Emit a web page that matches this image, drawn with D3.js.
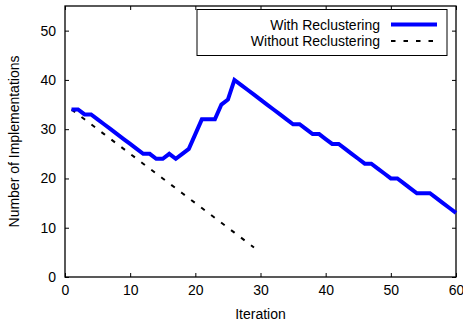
<!DOCTYPE html>
<html>
<head>
<meta charset="utf-8">
<script src="https://cdn.jsdelivr.net/npm/d3@7"></script>
<style>
  body { margin: 0; background: #fff; }
  svg { display: block; font-family: "Liberation Sans", Arial, sans-serif; }
</style>
</head>
<body>
<div id="chart"></div>
<script>
// values
const iterations = d3.range(1, 61);
const withRecl = [34, 34, 33, 33, 32, 31, 30, 29, 28, 27, 26, 25, 25, 24, 24, 25, 24, 25, 26, 29,
                  32, 32, 32, 35, 36, 40, 39, 38, 37, 36, 35, 34, 33, 32, 31, 31, 30, 29, 29, 28,
                  27, 27, 26, 25, 24, 23, 23, 22, 21, 20, 20, 19, 18, 17, 17, 17, 16, 15, 14, 13];
const withoutIter = d3.range(1, 30);
const withoutRecl = [34, 33, 32, 31, 30, 29, 28, 27, 26, 25, 24, 23, 22, 21, 20, 19, 18, 17, 16, 15,
                     14, 13, 12, 11, 10, 9, 8, 7, 6];
const xTicks = [0, 10, 20, 30, 40, 50, 60];
const yTicks = [0, 10, 20, 30, 40, 50];
const seriesNames = ["With Reclustering", "Without Reclustering"];

const width = 463, height = 321;
const margin = {top: 6, right: 7, bottom: 44, left: 65};
const fontSize = 14;
const dash = "4.5,8";

const svg = d3.select("#chart").append("svg")
    .attr("width", width)
    .attr("height", height);

const x = d3.scaleLinear().domain([0, 60]).range([margin.left, width - margin.right]);
const y = d3.scaleLinear().domain([0, 55]).range([height - margin.bottom, margin.top]);

// inward ticks on all four sides, gnuplot style
const tickLen = 4;
const axisBottom = d3.axisBottom(x).tickValues(xTicks).tickSize(-tickLen).tickPadding(8);
const axisTop = d3.axisTop(x).tickValues(xTicks).tickSize(-tickLen).tickFormat("");
const axisLeft = d3.axisLeft(y).tickValues(yTicks).tickSize(-tickLen).tickPadding(9);
const axisRight = d3.axisRight(y).tickValues(yTicks).tickSize(-tickLen).tickFormat("");

function styleAxis(g) {
  g.select(".domain").remove();
  g.selectAll(".tick line").attr("stroke", "#000").attr("stroke-width", 1);
  g.selectAll(".tick text").attr("font-size", fontSize).attr("fill", "#000")
    .attr("font-family", "Liberation Sans, Arial, sans-serif");
}

svg.append("g").attr("transform", `translate(0,${y(0)})`).call(axisBottom).call(styleAxis);
svg.append("g").attr("transform", `translate(0,${y(55)})`).call(axisTop).call(styleAxis);
svg.append("g").attr("transform", `translate(${x(0)},0)`).call(axisLeft).call(styleAxis);
svg.append("g").attr("transform", `translate(${x(60)},0)`).call(axisRight).call(styleAxis);

// frame
svg.append("rect")
    .attr("x", x(0)).attr("y", y(55))
    .attr("width", x(60) - x(0)).attr("height", y(0) - y(55))
    .attr("fill", "none").attr("stroke", "#000").attr("stroke-width", 1.3);

// axis titles
svg.append("text")
    .attr("x", (x(0) + x(60)) / 2).attr("y", 319)
    .attr("text-anchor", "middle").attr("font-size", fontSize)
    .text("Iteration");
svg.append("text")
    .attr("transform", `translate(19,${(y(0) + y(55)) / 2}) rotate(-90)`)
    .attr("text-anchor", "middle").attr("font-size", fontSize)
    .text("Number of Implementations");

const line = d3.line().x(d => x(d[0])).y(d => y(d[1]));

svg.append("path")
    .datum(withoutIter.map((it, i) => [it, withoutRecl[i]]))
    .attr("fill", "none").attr("stroke", "#000")
    .attr("stroke-width", 2).attr("stroke-dasharray", dash)
    .attr("d", line);

svg.append("path")
    .datum(iterations.map((it, i) => [it, withRecl[i]]))
    .attr("fill", "none").attr("stroke", "#0000ff")
    .attr("stroke-width", 4).attr("stroke-linejoin", "miter")
    .attr("d", line);

// legend
const legend = svg.append("g");
legend.append("rect")
    .attr("x", 197).attr("y", 9.5).attr("width", 250).attr("height", 46)
    .attr("fill", "#fff").attr("stroke", "#000").attr("stroke-width", 1);
const legendStyles = [
  {stroke: "#0000ff", width: 4, dash: null},
  {stroke: "#000", width: 2, dash: dash}
];
seriesNames.forEach((name, i) => {
  const yy = 24.5 + i * 16.5;
  legend.append("text")
      .attr("x", 380).attr("y", yy + 5)
      .attr("text-anchor", "end").attr("font-size", fontSize)
      .text(name);
  legend.append("line")
      .attr("x1", 391).attr("x2", 437).attr("y1", yy).attr("y2", yy)
      .attr("stroke", legendStyles[i].stroke)
      .attr("stroke-width", legendStyles[i].width)
      .attr("stroke-dasharray", legendStyles[i].dash);
});
</script>
</body>
</html>
